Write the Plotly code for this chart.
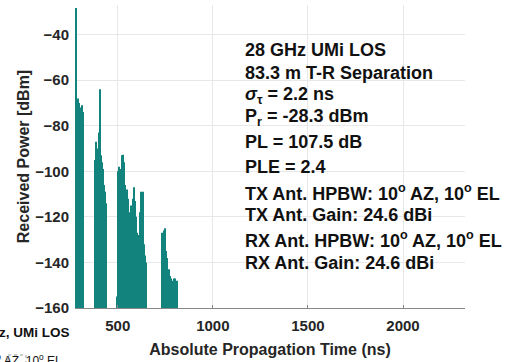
import plotly.graph_objects as go

# ---- data ----
delay_ns = [
    278, 282, 286, 290, 294, 298, 302, 306, 310, 314, 318,
    380, 384, 388, 392, 396, 400, 404, 408, 412, 416, 420, 424, 428, 432, 436, 440,
    495, 499, 503, 507, 511, 515, 519, 523, 527, 531, 535, 539, 543, 547, 551, 555,
    559, 563, 567, 571, 575, 579, 583, 587, 591, 595, 599, 603, 607, 611, 615, 619,
    623, 627, 631, 635, 639, 643, 647, 651,
    730, 734, 738, 742, 746, 750, 754, 758, 762, 766, 770, 774, 778, 782, 786, 790,
    794, 798, 802, 806, 810,
]
power_dbm = [
    -28.3, -74, -72, -68, -73, -70, -72, -75, -71, -72, -74,
    -95, -87, -92, -96, -90, -83, -94, -64, -93, -96, -99, -104, -106, -109, -114, -118,
    -155, -105, -100, -98, -103, -108, -99, -93, -92.7, -96, -104, -106, -110, -108, -114, -112,
    -118, -121, -117, -115, -119, -112, -108, -107, -113, -120, -129, -127, -131, -128, -126, -118,
    -109, -110, -109, -116, -132, -137, -140, -143,
    -135, -127, -130, -126, -125, -131, -135, -138, -145, -147, -143, -146, -150, -147, -152, -148,
    -147, -155, -147, -150, -148,
]
floor_dbm = -160
x_ticks = [500, 1000, 1500, 2000]
y_ticks = [-40, -60, -80, -100, -120, -140, -160]

info_lines = [
    "28 GHz UMi LOS",
    "83.3 m T-R Separation",
    "<i>σ</i><sub>τ</sub> = 2.2 ns",
    "P<sub>r</sub> = -28.3 dBm",
    "PL = 107.5 dB",
    "PLE = 2.4",
    "TX Ant. HPBW: 10<sup>o</sup> AZ, 10<sup>o</sup> EL",
    "TX Ant. Gain: 24.6 dBi",
    "RX Ant. HPBW: 10<sup>o</sup> AZ, 10<sup>o</sup> EL",
    "RX Ant. Gain: 24.6 dBi",
]
info_y_px = [50, 73, 95, 118, 142, 167, 192, 215, 240, 263]

# ---- figure ----
W, H = 512, 362
L, R, T, B = 75, 47, 5, 54
plot_h = H - T - B
plot_w = W - L - R

TEAL = "#13837e"
heights = [p - floor_dbm for p in power_dbm]

fig = go.Figure(go.Bar(
    x=delay_ns, y=heights, base=floor_dbm, width=5,
    marker=dict(color=TEAL, line=dict(width=0)),
))

FAM = "Liberation Sans, Arial, sans-serif"
axis_font = dict(family=FAM, size=15, color="#262626", weight="bold")

fig.update_layout(
    width=W, height=H,
    margin=dict(l=L, r=R, t=T, b=B),
    paper_bgcolor="white", plot_bgcolor="white",
    showlegend=False,
    bargap=0.01,
    xaxis=dict(
        range=[275, 2326], tickvals=x_ticks, ticks="inside", ticklen=3,
        tickcolor="#888", showgrid=True, gridcolor="#e8e8e8", gridwidth=1,
        showline=True, linecolor="#888", linewidth=1, zeroline=False,
        tickfont=axis_font, automargin=False, ticklabelstandoff=4,
        title=dict(text="Absolute Propagation Time (ns)",
                   font=dict(family=FAM, size=16, color="#262626", weight="bold"),
                   standoff=10),
    ),
    yaxis=dict(
        range=[-160, -27], tickvals=y_ticks, ticks="", showgrid=True,
        gridcolor="#e8e8e8", gridwidth=1, showline=False, zeroline=False,
        tickfont=axis_font, automargin=False, ticklabelstandoff=5,
        title=dict(text="Received Power [dBm]",
                   font=dict(family=FAM, size=16, color="#262626", weight="bold"),
                   standoff=1),
    ),
)

ann_font = dict(family=FAM, size=18, color="#111", weight="bold")
for txt, ypx in zip(info_lines, info_y_px):
    fig.add_annotation(
        text=txt, xref="paper", yref="paper",
        x=(243 - L) / plot_w, y=(H - B - ypx) / plot_h,
        xanchor="left", yanchor="middle", showarrow=False, font=ann_font,
    )

# fragments of a neighbouring figure at the bottom-left
fig.add_annotation(
    text="28 GHz, UMi LOS", xref="paper", yref="paper",
    x=(72 - L) / plot_w, y=(H - B - 332) / plot_h,
    xanchor="right", yanchor="middle", showarrow=False,
    font=dict(family=FAM, size=13.5, color="#111", weight="bold"),
)
fig.add_annotation(
    text="10<sup>o</sup> AZ, 10<sup>o</sup> EL", xref="paper", yref="paper",
    x=(64 - L) / plot_w, y=(H - B - 360) / plot_h,
    xanchor="right", yanchor="middle", showarrow=False,
    font=dict(family=FAM, size=12, color="#111"),
)
fig.add_shape(
    type="rect", xref="paper", yref="paper",
    x0=(8 - L) / plot_w, x1=(26 - L) / plot_w,
    y0=(H - B - 370) / plot_h, y1=(H - B - 355) / plot_h,
    line=dict(color="#999", width=1, dash="dot"),
)

fig.write_html(
    "out.html",
    config={"displayModeBar": False},
    post_script="document.body.style.margin='0';document.body.style.overflow='hidden';",
)
